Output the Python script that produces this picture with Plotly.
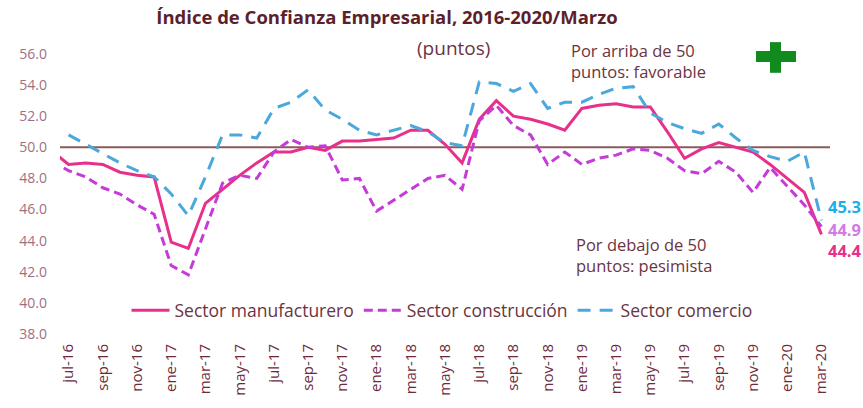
import plotly.graph_objects as go

# ---- data ----
meses = ["jun-16", "jul-16", "ago-16", "sep-16", "oct-16", "nov-16", "dic-16",
         "ene-17", "feb-17", "mar-17", "abr-17", "may-17", "jun-17", "jul-17", "ago-17",
         "sep-17", "oct-17", "nov-17", "dic-17",
         "ene-18", "feb-18", "mar-18", "abr-18", "may-18", "jun-18", "jul-18", "ago-18",
         "sep-18", "oct-18", "nov-18", "dic-18",
         "ene-19", "feb-19", "mar-19", "abr-19", "may-19", "jun-19", "jul-19", "ago-19",
         "sep-19", "oct-19", "nov-19", "dic-19",
         "ene-20", "feb-20", "mar-20"]

manufacturero = [49.8, 48.9, 49.0, 48.9, 48.4, 48.2, 48.1,
                 43.9, 43.5, 46.4, 47.3, 48.2, 49.0, 49.7, 49.7, 50.0, 49.8, 50.4, 50.4,
                 50.5, 50.6, 51.1, 51.1, 50.2, 49.0, 51.8, 53.0, 52.0, 51.8, 51.5, 51.1,
                 52.5, 52.7, 52.8, 52.6, 52.6, 51.0, 49.3, 49.9, 50.3, 50.0, 49.7, 48.9,
                 48.0, 47.1, 44.4]

construccion = [49.1, 48.5, 48.1, 47.4, 47.0, 46.3, 45.7,
                42.4, 41.8, 44.7, 47.7, 48.2, 48.0, 49.7, 50.5, 50.0, 50.1, 47.9, 48.0,
                45.9, 46.6, 47.3, 48.0, 48.2, 47.3, 51.7, 52.7, 51.4, 50.8, 48.9, 49.7,
                48.9, 49.3, 49.5, 49.9, 49.8, 49.3, 48.5, 48.3, 49.1, 48.4, 47.1, 48.7,
                47.5, 46.3, 44.9]

comercio = [None, 50.8, 50.2, 49.6, 49.0, 48.5, 48.1,
            47.0, 45.6, 48.1, 50.8, 50.8, 50.6, 52.5, 52.9, 53.7, 52.4, 51.8, 51.1,
            50.8, 51.1, 51.4, 51.0, 50.3, 50.1, 54.2, 54.1, 53.6, 54.1, 52.5, 52.9,
            52.9, 53.4, 53.8, 53.9, 52.2, 51.6, 51.2, 50.9, 51.5, 50.6, 49.8, 49.4,
            49.1, 49.7, 45.3]

tick_labels = ["jul-16", "sep-16", "nov-16", "ene-17", "mar-17", "may-17", "jul-17",
               "sep-17", "nov-17", "ene-18", "mar-18", "may-18", "jul-18", "sep-18",
               "nov-18", "ene-19", "mar-19", "may-19", "jul-19", "sep-19", "nov-19",
               "ene-20", "mar-20"]

nombres = ["Sector manufacturero", "Sector construcción", "Sector comercio"]
umbral = 50

# ---- styling ----
W, H = 863, 408
ML, MR, MT, MB = 60, 33, 54, 71
PW, PH = W - ML - MR, H - MT - MB
FONT = "Open Sans"
C_MAN = "#E8308A"
C_CON = "#C43BD8"
C_COM = "#4AA8DC"
TXT = "#6B3442"


def px(x):
    return (x - ML) / PW


def py(y):
    return (H - MB - y) / PH


fig = go.Figure()
fig.add_trace(go.Scatter(x=meses, y=manufacturero, name=nombres[0], mode="lines",
                         line=dict(color=C_MAN, width=3)))
fig.add_trace(go.Scatter(x=meses, y=construccion, name=nombres[1], mode="lines",
                         line=dict(color=C_CON, width=3, dash="9px,5px")))
fig.add_trace(go.Scatter(x=meses, y=comercio, name=nombres[2], mode="lines",
                         line=dict(color=C_COM, width=3, dash="13px,9px")))

fig.add_shape(type="line", xref="paper", x0=0, x1=1, yref="y", y0=umbral, y1=umbral,
              line=dict(color="#8B5A5A", width=2), layer="below")

# green cross
green = "#118A1E"
fig.add_shape(type="rect", xref="paper", yref="paper", x0=px(770), x1=px(781),
              y0=py(73), y1=py(42), fillcolor=green, line=dict(width=0))
fig.add_shape(type="rect", xref="paper", yref="paper", x0=px(756), x1=px(796),
              y0=py(62), y1=py(51), fillcolor=green, line=dict(width=0))

ann = [
    dict(text="(puntos)", x=px(453), y=py(48), xanchor="center",
         font=dict(size=19, color=TXT)),
    dict(text="Por arriba de 50<br>puntos: favorable", x=px(569), y=py(61),
         xanchor="left", align="left", font=dict(size=16.5, color=TXT)),
    dict(text="Por debajo de 50<br>puntos: pesimista", x=px(574), y=py(257),
         xanchor="left", align="left", font=dict(size=16.5, color=TXT)),
    dict(text=f"<b>{comercio[-1]:.1f}</b>", x=px(826), y=py(208), xanchor="left",
         font=dict(size=16.5, color="#1AAFE6")),
    dict(text=f"<b>{construccion[-1]:.1f}</b>", x=px(826), y=py(231), xanchor="left",
         font=dict(size=16.5, color="#D27BE6")),
    dict(text=f"<b>{manufacturero[-1]:.1f}</b>", x=px(826), y=py(253), xanchor="left",
         font=dict(size=16.5, color="#E8308A")),
]
for a in ann:
    fig.add_annotation(xref="paper", yref="paper", showarrow=False, yanchor="middle",
                       **a)

fig.update_layout(
    width=W, height=H,
    margin=dict(l=ML, r=MR, t=MT, b=MB),
    paper_bgcolor="white", plot_bgcolor="white",
    font=dict(family=FONT, color=TXT),
    title=dict(text="<b>Índice de Confianza Empresarial, 2016-2020/Marzo</b>",
               x=387 / W, xanchor="center", y=1 - 18 / H, yanchor="middle",
               font=dict(size=18.5, color="#5C1F2B", family=FONT)),
    showlegend=True,
    legend=dict(orientation="h", x=px(442), xanchor="center", y=py(313),
                yanchor="middle", font=dict(size=17.5, color=TXT),
                bgcolor="rgba(0,0,0,0)", itemwidth=38),
    xaxis=dict(type="category", categoryorder="array", categoryarray=meses,
               range=[0.5, len(meses) - 0.5], tickmode="array", tickvals=tick_labels,
               ticktext=tick_labels, tickangle=-90, showgrid=False, zeroline=False,
               showline=False, ticks="", ticklabelstandoff=6,
               tickfont=dict(size=15, color="#6E2A3A")),
    yaxis=dict(range=[38, 56], dtick=2, tick0=38, tickformat=".1f", showgrid=False,
               zeroline=False, showline=False, ticks="", ticklabelstandoff=12,
               tickfont=dict(size=14, color="#A07080")),
)

fig.write_html("out.html", config={"displayModeBar": False},
               post_script="document.body.style.margin='0';document.body.style.padding='0';")
